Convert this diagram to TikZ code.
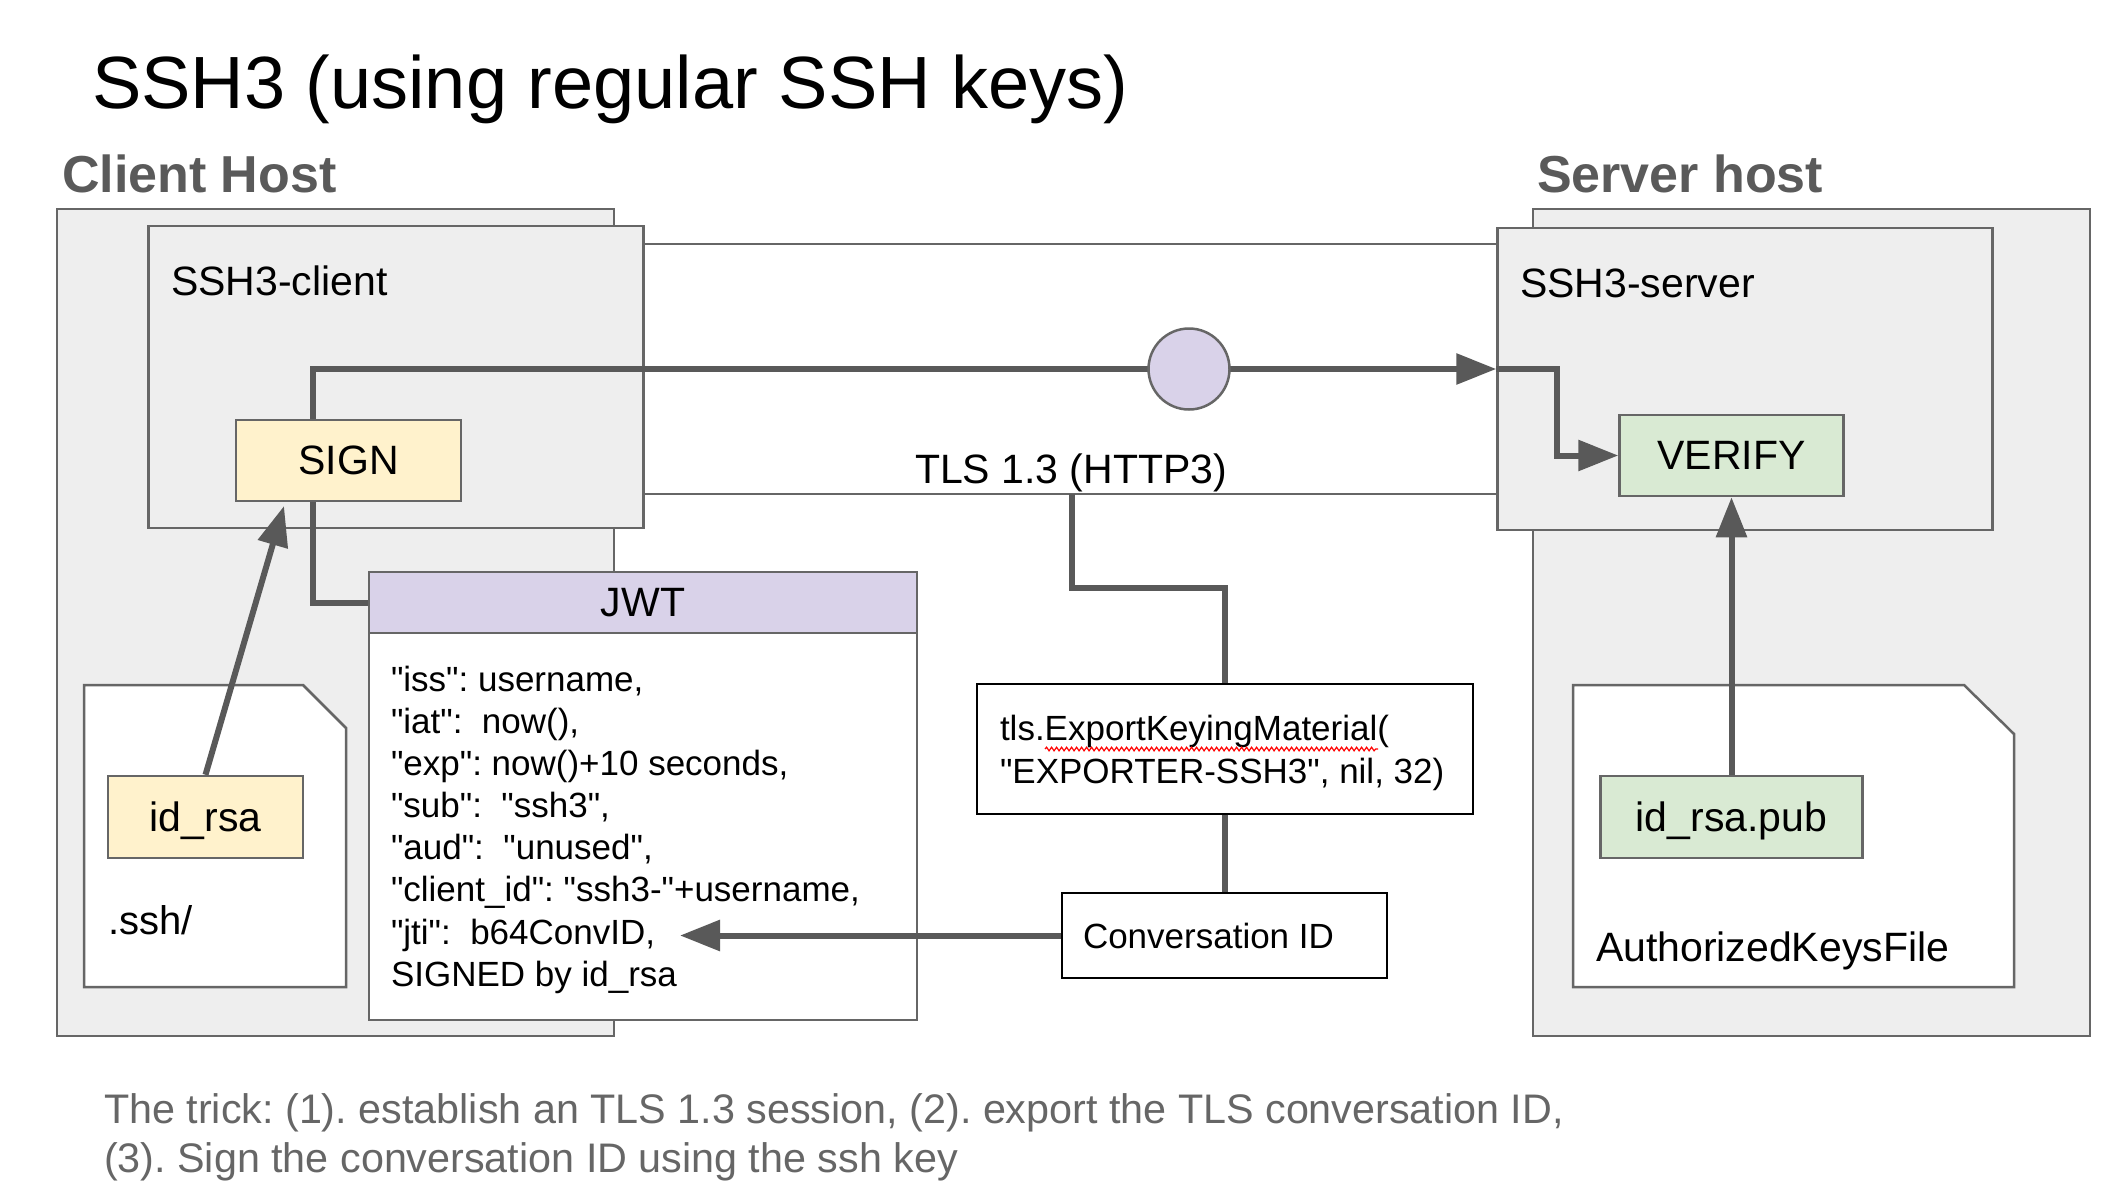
\documentclass[tikz,border=0pt]{standalone}
\usepackage{fontspec}
\setmainfont{Liberation Sans}
\newfontfamily\plainf{Liberation Sans}
\usetikzlibrary{arrows.meta,decorations.pathmorphing}
\definecolor{bordergray}{HTML}{666666}
\definecolor{hostfill}{HTML}{EEEEEE}
\definecolor{linegray}{HTML}{595959}
\definecolor{signfill}{HTML}{FFF2CC}
\definecolor{verifyfill}{HTML}{D9EAD3}
\definecolor{jwtfill}{HTML}{D9D2E9}
\definecolor{labelgray}{HTML}{5A5A5A}
\definecolor{footgray}{HTML}{666666}
\newcommand\fsz[1]{\fontsize{#1}{#1}\selectfont}
\frenchspacing
\begin{document}
\begin{tikzpicture}[x=1pt,y=-1pt,
  hostbox/.style={draw=bordergray,line width=2.5pt,fill=hostfill,inner sep=0pt},
  procbox/.style={draw=bordergray,line width=2.5pt,inner sep=0pt,font={\fsz{41}}},
  plainbox/.style={draw=black,line width=2pt,fill=white,inner sep=0pt},
  txt/.style={anchor=base west,inner sep=0pt,outer sep=0pt},
  jwttxt/.style={anchor=base west,inner sep=0pt,outer sep=0pt,font={\plainf\fsz{35}}},
  conn/.style={draw=linegray,line width=6pt},
  tunnel/.style={draw=bordergray,line width=2.5pt},
  arrowtip/.style={-{Triangle[length=40pt,width=30pt]}},
  filebox/.style={draw=bordergray,line width=2.5pt,fill=white}]
\fill[white] (0,0) rectangle (2118,1194);
\useasboundingbox (0,0) rectangle (2118,1194);

% titles
\node[txt,font={\fsz{74}}] (title) at (92,108) {SSH3 (using regular SSH keys)};
\node[txt,font={\fsz{52}\bfseries},text=labelgray] (clientlbl) at (62,192) {Client Host};
\node[txt,font={\fsz{52}\bfseries},text=labelgray] (serverlbl) at (1537,192) {Server host};

% host boxes
\node[hostbox,minimum width=557pt,minimum height=827pt] (chost) at (335.5,622.5) {};
\node[hostbox,minimum width=557pt,minimum height=827pt] (shost) at (1811.5,622.5) {};

% process boxes
\node[hostbox,minimum width=495pt,minimum height=302pt] (cli) at (396,377) {};
\node[hostbox,minimum width=495pt,minimum height=302pt] (srv) at (1745,379) {};
\node[txt,font={\fsz{41}}] (clilbl) at (171,295) {SSH3-client};
\node[txt,font={\fsz{41}}] (srvlbl) at (1520,297) {SSH3-server};

% tunnel
\coordinate (tuntop) at (0,244);
\coordinate (tunbot) at (0,494);
\draw[tunnel] (cli.east |- tuntop) -- (srv.west |- tuntop);
\draw[tunnel] (cli.east |- tunbot) -- (srv.west |- tunbot);
\node[txt,font={\fsz{41}}] (tls) at (915,483) {TLS 1.3 (HTTP3)};

% files
\draw[filebox] (84,685) -- (303,685) -- (346,728) -- (346,987) -- (84,987) -- cycle;
\node[txt,font={\fsz{40}}] (sshdir) at (108,934) {.ssh/};
\draw[filebox] (1573,685) -- (1964,685) -- (2014,734) -- (2014,987) -- (1573,987) -- cycle;
\node[txt,font={\fsz{41}}] (akf) at (1596,961) {AuthorizedKeysFile};

% key nodes
\node[procbox,fill=signfill,minimum width=195pt,minimum height=82pt,text depth=0pt] (idrsa) at (205.5,817) {id\_rsa};
\node[procbox,fill=verifyfill,minimum width=262pt,minimum height=82pt,text depth=0pt] (idpub) at (1731.5,817) {id\_rsa.pub};
\node[procbox,fill=signfill,minimum width=225pt,minimum height=81pt] (sign) at (348.5,460.5) {SIGN};
\node[procbox,fill=verifyfill,minimum width=224pt,minimum height=81pt] (verify) at (1731.5,455.5) {VERIFY};

% JWT
\node[procbox,fill=jwtfill,minimum width=548pt,minimum height=61pt] (jwthead) at (643,602.5) {JWT};
\node[procbox,fill=white,minimum width=548pt,minimum height=387pt] (jwtbody) at (643,826.5) {};
\node[jwttxt] (j1) at (391,691.6) {"iss": username,};
\node[jwttxt] (j2) at (391,733.7) {"iat":\ \ now(),};
\node[jwttxt] (j3) at (391,775.7) {"exp": now()+10 seconds,};
\node[jwttxt] (j4) at (391,817.8) {"sub":\ \ "ssh3",};
\node[jwttxt] (j5) at (391,859.8) {"aud":\ \ "unused",};
\node[jwttxt] (j6) at (391,901.9) {"client\_id": "ssh3-"+username,};
\node[jwttxt] (j7) at (391,944.0) {"jti":\ \ b64ConvID,};
\node[jwttxt] (j8) at (391,986.0) {SIGNED by id\_rsa};

% export
\node[plainbox,minimum width=496pt,minimum height=129.5pt] (export) at (1224.5,748.75) {};
\node[jwttxt] (exp1) at (1000,740) {tls.ExportKeyingMaterial(};
\node[jwttxt] (exp2) at (1000,783.5) {"EXPORTER-SSH3", nil, 32)};
\draw[red,line width=1.2pt,decorate,decoration={snake,amplitude=1.8pt,segment length=5pt}] (1045,749) -- (1378,749);

% conversation id
\node[plainbox,minimum width=325pt,minimum height=85pt] (convid) at (1224.5,935.5) {};
\node[jwttxt] (convtxt) at (1083,948) {Conversation ID};

% connectors
\coordinate (circc) at (1189,369);
\coordinate (signtip) at (284,506);
\coordinate (tlsdrop) at (1072,494);
\coordinate (tlsbend) at (1072,588);
\coordinate (jtitip) at (680,935.5);
\draw[conn,arrowtip] ([xshift=-35.5pt]sign.north) |- (srv.west |- circc);
\draw[conn,arrowtip] (srv.west |- circc) -| ([xshift=-61pt]verify.west) -- (verify.west);
\draw[conn] ([xshift=-35.5pt]sign.south) |- (jwthead.west);
\draw[conn,arrowtip] (idrsa.north) -- (signtip);
\draw[conn] (tlsdrop) -- (tlsbend) -| (export.north);
\draw[conn] (export.south) -- (convid.north);
\draw[conn,arrowtip] (convid.west) -- (jtitip);
\draw[conn,arrowtip] (idpub.north) -- (verify.south);

\node[circle,draw=bordergray,line width=2.5pt,fill=jwtfill,minimum size=81pt,inner sep=0pt] (circ) at (circc) {};

% footer
\node[txt,font={\fsz{41.3}},text=footgray] (foot1) at (104,1123) {The trick: (1). establish an TLS 1.3 session, (2). export the TLS conversation ID,};
\node[txt,font={\fsz{41.3}},text=footgray] (foot2) at (104,1172) {(3). Sign the conversation ID using the ssh key};
\end{tikzpicture}
\end{document}
